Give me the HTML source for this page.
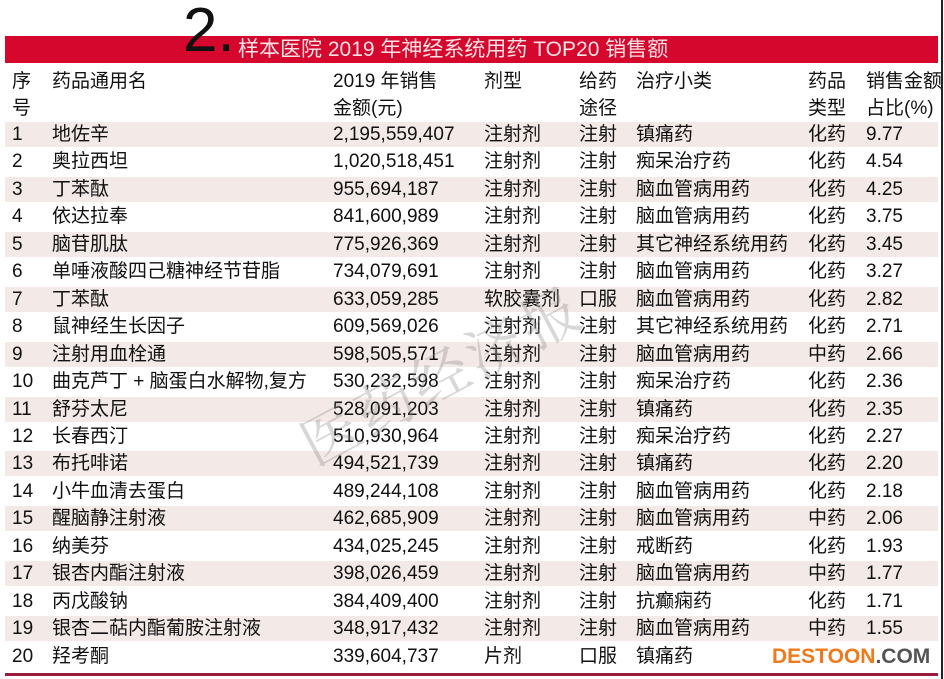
<!DOCTYPE html>
<html><head><meta charset="utf-8"><style>
body{margin:0;width:944px;height:679px;background:#fff;position:relative;overflow:hidden;font-family:"Liberation Sans","Noto Sans CJK SC",sans-serif;color:#111}
.bar{position:absolute;left:5px;top:36px;width:933px;height:27px;background:#d5072d}
.bt{position:absolute;left:238px;top:36px;height:27px;line-height:27px;color:#fbe3e6;font-size:21px}
.big{position:absolute;left:183px;top:-2px;font-size:62px;line-height:66px;color:#111;font-family:"Liberation Sans",sans-serif}
.t{position:absolute;font-size:19px;line-height:27px;white-space:nowrap}
.row{position:absolute;left:5px;width:933px;height:25px}
.p{background:#f3e9e7}
.rb{position:absolute;right:1px;top:0;width:2px;height:679px;background:#222}
.bl{position:absolute;left:5px;top:673px;width:933px;height:3px;background:#9b1b3c}
.wm{position:absolute;left:285px;top:330px;font-size:58px;color:rgba(140,140,140,.35);transform:rotate(-28deg);font-family:"Noto Serif CJK SC",serif;letter-spacing:4px}
</style></head><body>
<div class="rb"></div>
<div class="bar"></div>
<div class="big">2.</div>
<div class="bt">样本医院 2019 年神经系统用药 TOP20 销售额</div>
<div class="t" style="left:12px;top:68px">序</div><div class="t" style="left:12px;top:95px">号</div>
<div class="t" style="left:52px;top:68px">药品通用名</div>
<div class="t" style="left:333px;top:68px">2019 年销售</div><div class="t" style="left:333px;top:95px">金额(元)</div>
<div class="t" style="left:484px;top:68px">剂型</div>
<div class="t" style="left:579px;top:68px">给药</div><div class="t" style="left:579px;top:95px">途径</div>
<div class="t" style="left:636px;top:68px">治疗小类</div>
<div class="t" style="left:808px;top:68px">药品</div><div class="t" style="left:808px;top:95px">类型</div>
<div class="t" style="left:866px;top:68px">销售金额</div><div class="t" style="left:866px;top:95px">占比(%)</div>
<div id="rows"></div>
<div class="wm">医药经济报</div>
<div class="bl"></div>
<div class="t" style="left:772px;top:643px;font-weight:bold;font-size:21px;color:#f07a1a">DESTOON<span style="color:#555">.COM</span></div>
<script>
var d=[["地佐辛","2,195,559,407","注射剂","注射","镇痛药","化药","9.77"],
["奥拉西坦","1,020,518,451","注射剂","注射","痴呆治疗药","化药","4.54"],
["丁苯酞","955,694,187","注射剂","注射","脑血管病用药","化药","4.25"],
["依达拉奉","841,600,989","注射剂","注射","脑血管病用药","化药","3.75"],
["脑苷肌肽","775,926,369","注射剂","注射","其它神经系统用药","化药","3.45"],
["单唾液酸四己糖神经节苷脂","734,079,691","注射剂","注射","脑血管病用药","化药","3.27"],
["丁苯酞","633,059,285","软胶囊剂","口服","脑血管病用药","化药","2.82"],
["鼠神经生长因子","609,569,026","注射剂","注射","其它神经系统用药","化药","2.71"],
["注射用血栓通","598,505,571","注射剂","注射","脑血管病用药","中药","2.66"],
["曲克芦丁 + 脑蛋白水解物,复方","530,232,598","注射剂","注射","痴呆治疗药","化药","2.36"],
["舒芬太尼","528,091,203","注射剂","注射","镇痛药","化药","2.35"],
["长春西汀","510,930,964","注射剂","注射","痴呆治疗药","化药","2.27"],
["布托啡诺","494,521,739","注射剂","注射","镇痛药","化药","2.20"],
["小牛血清去蛋白","489,244,108","注射剂","注射","脑血管病用药","化药","2.18"],
["醒脑静注射液","462,685,909","注射剂","注射","脑血管病用药","中药","2.06"],
["纳美芬","434,025,245","注射剂","注射","戒断药","化药","1.93"],
["银杏内酯注射液","398,026,459","注射剂","注射","脑血管病用药","中药","1.77"],
["丙戊酸钠","384,409,400","注射剂","注射","抗癫痫药","化药","1.71"],
["银杏二萜内酯葡胺注射液","348,917,432","注射剂","注射","脑血管病用药","中药","1.55"],
["羟考酮","339,604,737","片剂","口服","镇痛药","",""]];
var x=[52,333,484,579,636,808,866],h="";
d.forEach(function(r,i){var y=122+i*27.45;
if(i%2==0)h+='<div class="row p" style="top:'+y+'px"></div>';
h+='<div class="t" style="left:12px;top:'+(y-1)+'px">'+(i+1)+'</div>';
r.forEach(function(c,j){h+='<div class="t" style="left:'+x[j]+'px;top:'+(y-1)+'px">'+c+'</div>';});});
document.getElementById("rows").innerHTML=h;
</script>
</body></html>
